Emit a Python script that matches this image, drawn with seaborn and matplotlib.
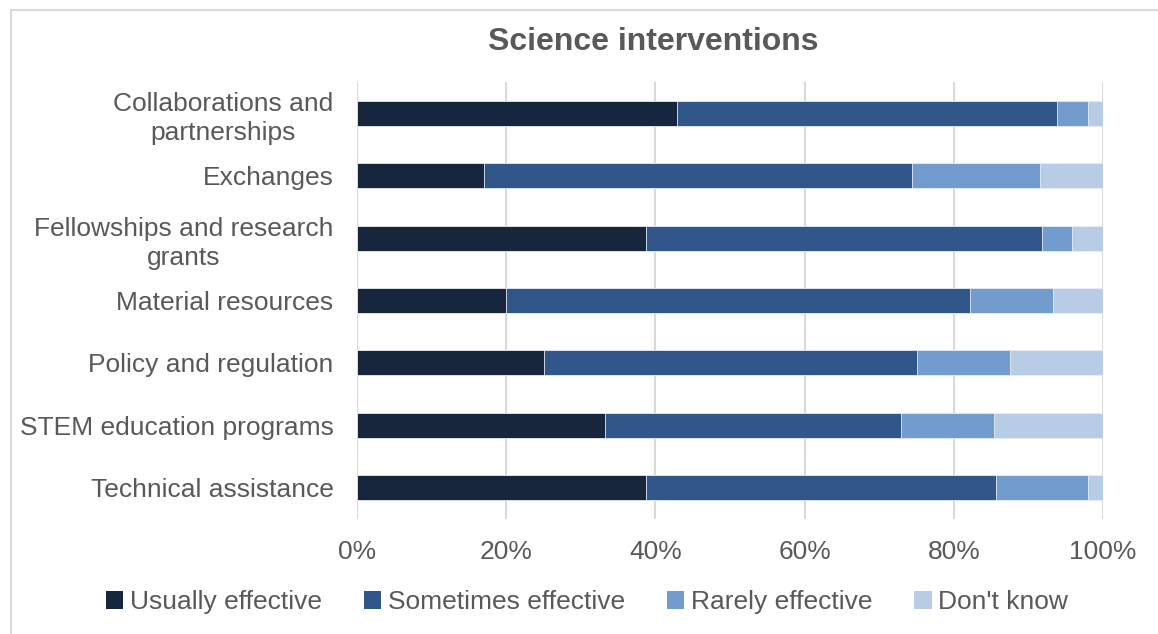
import matplotlib
matplotlib.use("Agg")
import matplotlib.pyplot as plt
import seaborn as sns
import pandas as pd
import numpy as np
from matplotlib.patches import Patch
from matplotlib.lines import Line2D

categories = ["Collaborations and\npartnerships", "Exchanges", "Fellowships and research\ngrants",
              "Material resources", "Policy and regulation", "STEM education programs",
              "Technical assistance"]
usually = [42.9, 17.0, 38.7, 20.0, 25.0, 33.3, 38.7]
sometimes = [50.9, 57.4, 53.1, 62.2, 50.0, 39.6, 46.9]
rarely = [4.2, 17.1, 4.1, 11.1, 12.5, 12.5, 12.4]
dont_know = [2.0, 8.5, 4.1, 6.7, 12.5, 14.6, 2.0]
series_names = ["Usually effective", "Sometimes effective", "Rarely effective", "Don't know"]
colors = ["#17263D", "#31578A", "#729CCD", "#B8CDE5"]
tick_vals = [0, 20, 40, 60, 80, 100]

sns.set_theme(style="white")
plt.rcParams['font.family'] = ['Liberation Sans', 'DejaVu Sans']
text_color = "#595959"

df = pd.DataFrame({"cat": categories, "u": usually, "s": sometimes, "r": rarely, "d": dont_know})
df["c1"] = df["u"]
df["c2"] = df["c1"] + df["s"]
df["c3"] = df["c2"] + df["r"]
df["c4"] = df["c3"] + df["d"]

W, H = 1158, 634
fig = plt.figure(figsize=(W/100, H/100), dpi=100)
ax = fig.add_axes([357/W, 1 - 519/H, (1103-357)/W, (519-82)/H])

for col, c in zip(["c4", "c3", "c2", "c1"], colors[::-1]):
    sns.barplot(data=df, x=col, y="cat", color=c, width=0.4, ax=ax, orient="h",
                edgecolor="#E8EEF5", linewidth=0.6, saturation=1)

ax.set_xlim(0, 100)
ax.set_xticks(tick_vals)
ax.set_xticklabels([f"{v}%" for v in tick_vals], fontsize=19, color=text_color)
ax.tick_params(axis="y", labelsize=19, colors=text_color, length=0, pad=17)
ax.tick_params(axis="x", length=0, pad=15)
for lab in ax.get_yticklabels():
    lab.set_color(text_color)
    lab.set_horizontalalignment("right")
    lab.set_multialignment("center")
    lab.set_linespacing(1.3)
ax.set_xlabel("")
ax.set_ylabel("")
ax.grid(axis="x", color="#D9D9D9", linewidth=1.5)
ax.set_axisbelow(True)
for sp in ax.spines.values():
    sp.set_visible(False)

fig.text(653/W, 1 - 42/H, "Science interventions", ha="center", va="center",
         fontsize=23, fontweight="bold", color=text_color)

handles = [Patch(facecolor=c, edgecolor="none") for c in colors]
fig.legend(handles, series_names, loc="center", bbox_to_anchor=(0.5 + 8/W, 1 - 602/H), ncol=4,
           frameon=False, fontsize=19, labelcolor=text_color, handlelength=0.65, handleheight=0.65,
           handletextpad=0.25, columnspacing=1.6)

# chart area border (top and left visible)
fig.add_artist(Line2D([11/W, 1.0], [1 - 10/H, 1 - 10/H], transform=fig.transFigure,
                      color="#D9D9D9", linewidth=1.5))
fig.add_artist(Line2D([11/W, 11/W], [1 - 10/H, 0.0], transform=fig.transFigure,
                      color="#D9D9D9", linewidth=1.5))

fig.savefig("out.png", dpi=100)
